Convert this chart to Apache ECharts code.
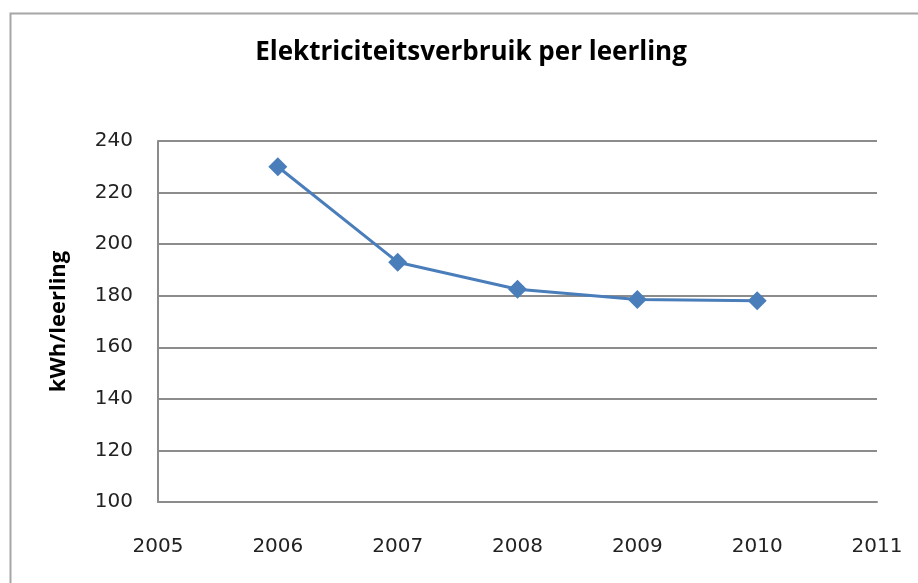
<!DOCTYPE html>
<html><head><meta charset="utf-8">
<script src="https://cdn.jsdelivr.net/npm/echarts@6/dist/echarts.min.js"></script>
<style>html,body{margin:0;padding:0;background:#fff}#c{width:918px;height:583px}</style>
</head><body><div id="c"></div>
<script>
const years = [2006, 2007, 2008, 2009, 2010];
const values = [230, 193, 182.5, 178.5, 178];
const titleText = 'Elektriciteitsverbruik per leerling';
const yAxisName = 'kWh/leerling';

const chart = echarts.init(document.getElementById('c'), null, {renderer: 'canvas'});
chart.setOption({
  animation: false,
  backgroundColor: '#fff',
  graphic: [{
    type: 'rect', left: 8, top: 11, silent: true,
    shape: {x: 0, y: 0, width: 1000, height: 700},
    style: {fill: 'none', stroke: '#a6a6a6', lineWidth: 2}
  }],
  title: {
    text: titleText, left: 466, top: 35, textAlign: 'center',
    textStyle: {fontFamily: 'Open Sans', fontWeight: 'bold', fontSize: 26, color: '#000'}
  },
  grid: {left: 158, right: 41, top: 141, bottom: 81},
  xAxis: {
    type: 'value', min: 2005, max: 2011, interval: 1,
    axisLine: {show: true, lineStyle: {color: '#8c8c8c', width: 2}},
    axisTick: {show: false},
    splitLine: {show: false},
    axisLabel: {margin: 35, fontFamily: 'DejaVu Sans', fontSize: 20, color: '#222', formatter: v => String(v)}
  },
  yAxis: {
    type: 'value', min: 100, max: 240, interval: 20,
    name: yAxisName, nameLocation: 'middle', nameGap: 88, nameRotate: 90,
    nameTextStyle: {fontFamily: 'Open Sans', fontWeight: 'bold', fontSize: 22, color: '#000'},
    axisLine: {show: true, lineStyle: {color: '#8c8c8c', width: 2}},
    axisTick: {show: false},
    splitLine: {show: true, lineStyle: {color: '#8c8c8c', width: 2}},
    axisLabel: {margin: 25, fontFamily: 'DejaVu Sans', fontSize: 20, color: '#222'}
  },
  series: [{
    type: 'line',
    data: years.map((y, i) => [y, values[i]]),
    symbol: 'diamond', symbolSize: 19,
    lineStyle: {color: '#4a7ebb', width: 3},
    itemStyle: {color: '#4a7ebb'}
  }]
});
</script></body></html>
